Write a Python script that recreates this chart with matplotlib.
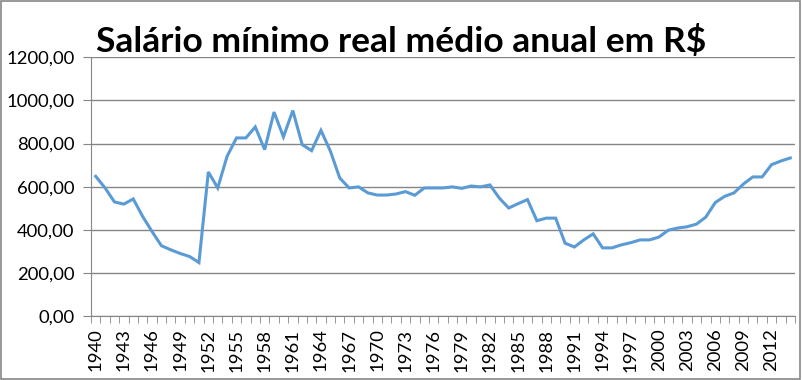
import numpy as np
import matplotlib.pyplot as plt
from matplotlib.patches import Rectangle

# dados
anos = list(range(1940, 2015))
salario = [648, 594, 529, 519, 543, 462, 392, 326, 307, 290,
           276, 248, 668, 594, 741, 826, 826, 877, 772, 946,
           831, 953, 795, 767, 861, 765, 640, 594, 599, 571,
           561, 561, 566, 577, 560, 594, 594, 594, 599, 592,
           603, 599, 608, 547, 501, 521, 540, 442, 454, 454,
           338, 320, 353, 381, 316, 316, 330, 340, 353, 353,
           366, 398, 408, 414, 426, 459, 526, 555, 571, 612,
           645, 645, 702, 719, 733]
yticks = [0, 200, 400, 600, 800, 1000, 1200]
titulo = 'Salário mínimo real médio anual em R$'

plt.rcParams['font.family'] = ['Lato', 'DejaVu Sans']

fig = plt.figure(figsize=(8.02, 3.80), dpi=100)
ax = fig.add_axes([91/802, 1 - 316/380, (795 - 91)/802, (316 - 57.3)/380])

x = np.arange(len(anos))
ax.plot(x, salario, color='#5B9BD5', lw=2.2, solid_joinstyle='miter')

ax.set_xlim(-0.5, len(anos) - 0.5)
ax.set_ylim(0, 1200)
ax.set_yticks(yticks)
ax.set_yticklabels([f'{v:.2f}'.replace('.', ',') for v in yticks], fontsize=13.3)
ax.yaxis.grid(True, color='#868686', lw=1)
ax.set_axisbelow(True)

ax.set_xticks(x[::3])
ax.set_xticklabels([str(a) for a in anos[::3]], rotation=90, fontsize=13.3)
ax.set_xticks(np.arange(-0.5, len(anos), 1), minor=True)
ax.tick_params(axis='x', which='major', length=0, pad=9)
ax.tick_params(axis='x', which='minor', length=5, color='#868686')
ax.tick_params(axis='y', length=6, color='#868686', pad=6)

for s in ['top', 'right']:
    ax.spines[s].set_visible(False)
ax.spines['left'].set_color('#868686')
ax.spines['bottom'].set_color('#868686')

fig.text(96/802, 1 - 52/380, titulo, fontsize=25.5, fontweight='bold', va='baseline')

fig.patches.append(Rectangle((0.001, 0.002), 0.997, 0.995, transform=fig.transFigure,
                             fill=False, edgecolor='#868686', lw=1.2))

fig.savefig('out.png', dpi=100)
